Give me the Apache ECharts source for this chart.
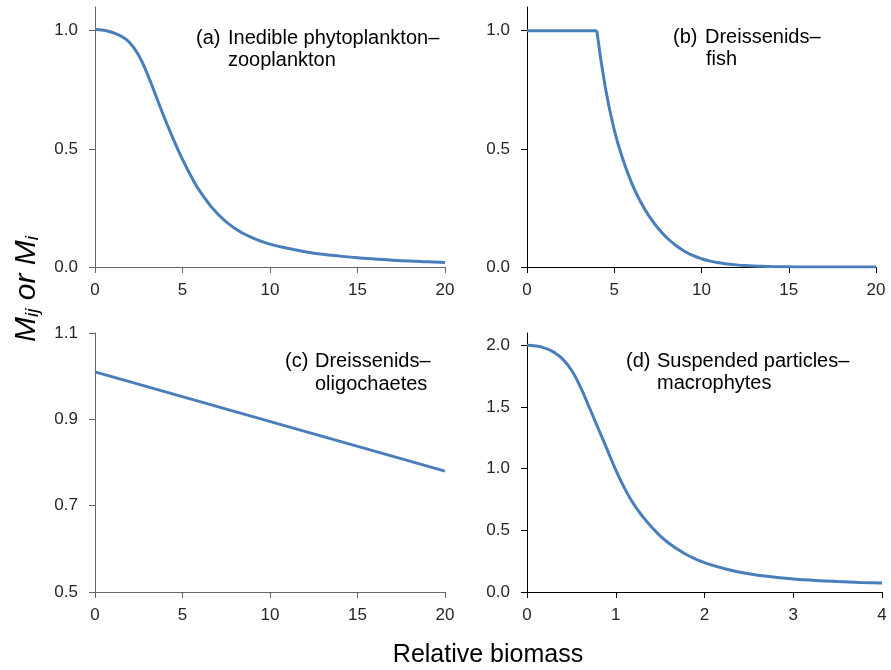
<!DOCTYPE html>
<html>
<head>
<meta charset="utf-8">
<script src="https://cdn.jsdelivr.net/npm/echarts@6/dist/echarts.min.js"></script>
<style>
html,body{margin:0;padding:0;background:#fff;}
#main{width:891px;height:670px;}
</style>
</head>
<body>
<div id="main"></div>
<script>
// Panel (a) Inedible phytoplankton – zooplankton
var xA = [0,0.5,1,1.5,2,2.5,3,3.5,4,4.5,5,5.5,6,7,8,9,10,11,12,13,14,15,16,17,18,19,20];
var yA = [1.005,1.002,0.992,0.976,0.948,0.895,0.815,0.72,0.625,0.537,0.455,0.383,0.32,0.225,0.163,0.123,0.097,0.079,0.065,0.054,0.046,0.039,0.034,0.029,0.025,0.022,0.019];
// Panel (b) Dreissenids – fish
var xB1 = [0,4];
var yB1 = [1.0,1.0];
var xB2 = [4,4.5,5,5.5,6,6.5,7,7.5,8,8.5,9,9.5,10,10.5,11,11.5,12,12.5,13,13.5,14,15,16,17,18,19,20];
var yB2 = [1.0,0.755,0.58,0.455,0.355,0.277,0.215,0.165,0.125,0.093,0.068,0.049,0.035,0.025,0.018,0.013,0.009,0.006,0.004,0.003,0.002,0.001,0,0,0,0,0];
// Panel (c) Dreissenids – oligochaetes
var xC = [0,20];
var yC = [1.01,0.78];
// Panel (d) Suspended particles – macrophytes
var xD = [0,0.1,0.2,0.3,0.4,0.5,0.6,0.7,0.8,0.9,1.0,1.1,1.2,1.3,1.4,1.5,1.6,1.7,1.8,1.9,2.0,2.25,2.5,2.75,3.0,3.25,3.5,3.75,4.0];
var yD = [2.0,1.995,1.978,1.945,1.89,1.80,1.665,1.50,1.33,1.16,0.99,0.84,0.715,0.615,0.53,0.455,0.395,0.345,0.302,0.267,0.238,0.185,0.148,0.123,0.106,0.094,0.085,0.078,0.072];

// Tick labels
var yTicksA = [0,0.5,1.0];
var yTicksD = [0,0.5,1.0,1.5,2.0];
var xTitle = 'Relative biomass';

function zip(xs, ys){ return xs.map(function(x,i){ return [x, ys[i]]; }); }

var FONT = "'Liberation Sans', Arial, sans-serif";
var LINE = '#4a7ebb';

function xAxis(idx, max, interval, color){
  return {
    type:'value', gridIndex:idx, min:0, max:max, interval:interval,
    axisLine:{show:true, onZero:false, lineStyle:{color:color, width:1}},
    axisTick:{show:true, length:6, lineStyle:{color:color}},
    axisLabel:{color:'#262626', fontSize:17, fontFamily:FONT, margin:15},
    splitLine:{show:false}
  };
}
function yAxis(idx, min, max, ticks, interval, color){
  var ax = {
    type:'value', gridIndex:idx, min:min, max:max,
    axisLine:{show:true, onZero:false, lineStyle:{color:color, width:1}},
    axisTick:{show:true, length:6, lineStyle:{color:color}},
    axisLabel:{color:'#262626', fontSize:17, fontFamily:FONT, margin:17,
      formatter:function(v){ return Number(v).toFixed(1); }},
    splitLine:{show:false}
  };
  if (ticks) {
    ax.axisLabel.customValues = ticks;
    ax.axisTick.customValues = ticks;
  } else {
    ax.interval = interval;
  }
  return ax;
}
function lineSeries(idx, data, smooth){
  return {
    type:'line', xAxisIndex:idx, yAxisIndex:idx, data:data,
    showSymbol:false, symbol:'none', smooth:smooth,
    lineStyle:{color:LINE, width:3}, animation:false
  };
}
function txt(x, y, s){
  return {type:'text', x:x, y:y, style:{text:s, font:'20px ' + FONT, fill:'#000', verticalAlign:'middle'}};
}

var chart = echarts.init(document.getElementById('main'));
chart.setOption({
  backgroundColor:'#fff',
  animation:false,
  grid:[
    {left:95, top:7, width:350, height:260},
    {left:527, top:7, width:349, height:260},
    {left:95, top:333, width:350, height:259},
    {left:527, top:333, width:355, height:259}
  ],
  xAxis:[
    xAxis(0, 20, 5, '#666'),
    xAxis(1, 20, 5, '#000'),
    xAxis(2, 20, 5, '#666'),
    xAxis(3, 4, 1, '#000')
  ],
  yAxis:[
    yAxis(0, 0, 1.1, yTicksA, null, '#666'),
    yAxis(1, 0, 1.1, yTicksA, null, '#000'),
    yAxis(2, 0.5, 1.1, null, 0.2, '#666'),
    yAxis(3, 0, 2.1, yTicksD, null, '#000')
  ],
  series:[
    lineSeries(0, zip(xA, yA), 0.5),
    lineSeries(1, zip(xB1, yB1), false),
    lineSeries(1, zip(xB2, yB2), 0.5),
    lineSeries(2, zip(xC, yC), false),
    lineSeries(3, zip(xD, yD), 0.5)
  ],
  graphic:[
    txt(196, 38, '(a)'), txt(228, 38, 'Inedible phytoplankton\u2013'), txt(228, 60, 'zooplankton'),
    txt(673, 37, '(b)'), txt(705, 37, 'Dreissenids\u2013'), txt(706, 59, 'fish'),
    txt(285, 361, '(c)'), txt(315, 361, 'Dreissenids\u2013'), txt(315, 384, 'oligochaetes'),
    txt(626, 361, '(d)'), txt(657, 361, 'Suspended particles\u2013'), txt(657, 383, 'macrophytes'),
    {type:'text', x:488, y:655, style:{text:xTitle, font:'25px ' + FONT, fill:'#000', align:'center', verticalAlign:'middle'}},
    {type:'text', x:27, y:289, rotation:Math.PI/2,
      style:{text:'{m|M}{s|ij}{m| or M}{s|i}', align:'center', verticalAlign:'middle', fill:'#000',
        rich:{
          m:{fontSize:30, fontStyle:'italic', fontFamily:FONT, lineHeight:30},
          s:{fontSize:19, fontStyle:'italic', fontFamily:FONT, lineHeight:12, verticalAlign:'bottom'}
        }}}
  ]
});
</script>
</body>
</html>
